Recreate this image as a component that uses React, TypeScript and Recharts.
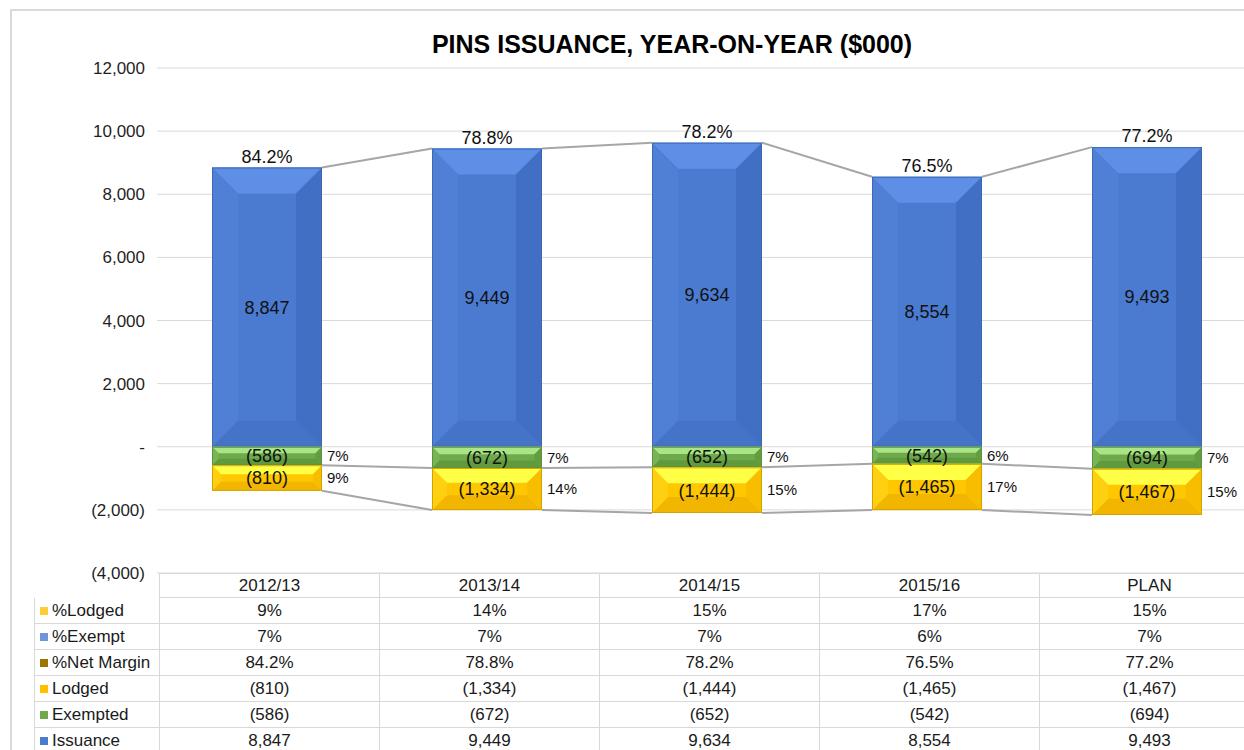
import { BarChart, Bar, XAxis, YAxis, CartesianGrid, LabelList } from "recharts";

const categories = ["2012/13", "2013/14", "2014/15", "2015/16", "PLAN"];
const issuance = [8847, 9449, 9634, 8554, 9493];
const exempted = [-586, -672, -652, -542, -694];
const lodged = [-810, -1334, -1444, -1465, -1467];
const pctLodged = [9, 14, 15, 17, 15];
const pctExempt = [7, 7, 7, 6, 7];
const pctNetMargin = [84.2, 78.8, 78.2, 76.5, 77.2];
const yTicks = [-4000, -2000, 0, 2000, 4000, 6000, 8000, 10000, 12000];

const FONT = "'Liberation Sans', Arial, sans-serif";
const CHART_W = 1300;
const CHART_H = 600;
const MARGIN = { top: 68, right: 43, bottom: 27, left: 97 };
const Y_AXIS_W = 60;
const PLOT_W = CHART_W - MARGIN.left - Y_AXIS_W - MARGIN.right;
const STEP = PLOT_W / categories.length;
const LINE = "#a6a6a6";

const data = categories.map((name, i) => ({
    name,
    issuance: issuance[i],
    exempted: exempted[i],
    lodged: lodged[i],
    pctLodged: pctLodged[i],
    pctExempt: pctExempt[i],
    pctNetMargin: pctNetMargin[i],
}));

const fmtNum = (v: number) =>
    v < 0 ? `(${Math.abs(v).toLocaleString("en-US")})` : v.toLocaleString("en-US");
const fmtAxis = (v: number) => (v === 0 ? "-" : fmtNum(v));

const palettes: Record<string, any> = {
    issuance: { center: "#4a7bd1", top: "#5d8fe6", left: "#4f80d6", right: "#416fc3", bottom: "#4473c7", edge: "#3f68b2" },
    exempted: { center: "#6eaa4b", top: "#a9e585", left: "#78b555", right: "#629e40", bottom: "#609a3e", edge: "#5f9040" },
    lodged: { center: "#ffc700", top: "#ffff45", left: "#ffcf12", right: "#f9bd00", bottom: "#f2b600", edge: "#d0a400" },
};

// normalise negative heights coming from the stacked bars
function box(props: any) {
    let { x, y, width, height } = props;
    if (height < 0) {
        y = y + height;
        height = -height;
    }
    return { x, y, w: width, h: height };
}

function Bevel({ x, y, w, h, p }: any) {
    const b = Math.min(26, h * 0.35, w / 2);
    const pts = (a: number[][]) => a.map((q) => q.join(",")).join(" ");
    return (
        <g>
            <rect x={x} y={y} width={w} height={h} fill={p.center} />
            <polygon points={pts([[x, y], [x + w, y], [x + w - b, y + b], [x + b, y + b]])} fill={p.top} />
            <polygon points={pts([[x, y + h], [x + w, y + h], [x + w - b, y + h - b], [x + b, y + h - b]])} fill={p.bottom} />
            <polygon points={pts([[x, y], [x + b, y + b], [x + b, y + h - b], [x, y + h]])} fill={p.left} />
            <polygon points={pts([[x + w, y], [x + w - b, y + b], [x + w - b, y + h - b], [x + w, y + h]])} fill={p.right} />
            <rect x={x + 0.5} y={y + 0.5} width={w - 1} height={Math.max(h - 1, 0)} fill="none" stroke={p.edge} strokeWidth={1} />
        </g>
    );
}

const IssuanceShape = (props: any) => {
    const { x, y, w, h } = box(props);
    const i = props.index;
    const k = h / issuance[i];
    const zeroY = y + h;
    return (
        <g>
            <Bevel x={x} y={y} w={w} h={h} p={palettes.issuance} />
            {i < categories.length - 1 && (
                <line x1={x + w} y1={y} x2={x + STEP} y2={zeroY - issuance[i + 1] * k} stroke={LINE} strokeWidth={2} />
            )}
        </g>
    );
};

const ExemptedShape = (props: any) => {
    const { x, y, w, h } = box(props);
    const i = props.index;
    const k = h / Math.abs(exempted[i]);
    return (
        <g>
            <Bevel x={x} y={y} w={w} h={h} p={palettes.exempted} />
            {i < categories.length - 1 && (
                <line x1={x + w} y1={y + h} x2={x + STEP} y2={y + Math.abs(exempted[i + 1]) * k} stroke={LINE} strokeWidth={2} />
            )}
        </g>
    );
};

const LodgedShape = (props: any) => {
    const { x, y, w, h } = box(props);
    const i = props.index;
    const k = h / Math.abs(lodged[i]);
    const zeroY = y - Math.abs(exempted[i]) * k;
    return (
        <g>
            <Bevel x={x} y={y} w={w} h={h} p={palettes.lodged} />
            {i < categories.length - 1 && (
                <line
                    x1={x + w}
                    y1={y + h}
                    x2={x + STEP}
                    y2={zeroY + (Math.abs(exempted[i + 1]) + Math.abs(lodged[i + 1])) * k}
                    stroke={LINE}
                    strokeWidth={2}
                />
            )}
        </g>
    );
};

const tableRows = [
    { label: "%Lodged", icon: "#ffcc33", values: pctLodged.map((v) => `${v}%`) },
    { label: "%Exempt", icon: "#6f95d8", values: pctExempt.map((v) => `${v}%`) },
    { label: "%Net Margin", icon: "#9c7400", values: pctNetMargin.map((v) => `${v.toFixed(1)}%`) },
    { label: "Lodged", icon: "#ffc000", values: lodged.map(fmtNum) },
    { label: "Exempted", icon: "#6fa94a", values: exempted.map(fmtNum) },
    { label: "Issuance", icon: "#4a7bd0", values: issuance.map(fmtNum) },
];

const GRID = "#d9d9d9";
const LABEL_W = 125;
const TABLE_LEFT = 34;

function DataTable() {
    const cell = (w: number, h: number, extra: any = {}) => ({
        width: w,
        height: h,
        boxSizing: "border-box" as const,
        borderLeft: `1px solid ${GRID}`,
        borderBottom: `1px solid ${GRID}`,
        display: "flex",
        alignItems: "center",
        justifyContent: "center",
        whiteSpace: "nowrap" as const,
        ...extra,
    });
    return (
        <div style={{ position: "absolute", left: TABLE_LEFT, top: 573, fontFamily: FONT, fontSize: 17, color: "#1a1a1a" }}>
            <div style={{ display: "flex" }}>
                <div style={{ width: LABEL_W, height: 25 }} />
                {categories.map((c) => (
                    <div key={c} style={cell(STEP, 25, { borderTop: `1px solid ${GRID}` })}>
                        {c}
                    </div>
                ))}
            </div>
            {tableRows.map((r) => (
                <div key={r.label} style={{ display: "flex" }}>
                    <div style={cell(LABEL_W, 26, { justifyContent: "flex-start", paddingLeft: 5 })}>
                        <span style={{ display: "inline-block", width: 8, height: 8, background: r.icon, marginRight: 4 }} />
                        {r.label}
                    </div>
                    {r.values.map((v, j) => (
                        <div key={j} style={cell(STEP, 26)}>
                            {v}
                        </div>
                    ))}
                </div>
            ))}
        </div>
    );
}

export default function App() {
    const labelStyle = { fontFamily: FONT, fill: "#111" };
    return (
        <div style={{ position: "fixed", left: 0, top: 0, width: 1244, height: 750, overflow: "hidden", background: "#fff" }}>
            <div style={{ position: "absolute", left: 10, top: 9, width: 1400, height: 900, borderLeft: `2px solid ${GRID}`, borderTop: `2px solid ${GRID}` }} />
            <div
                style={{
                    position: "absolute",
                    left: 172,
                    top: 29,
                    width: 1000,
                    textAlign: "center",
                    fontFamily: FONT,
                    fontWeight: "bold",
                    fontSize: 25,
                    lineHeight: "30px",
                    color: "#000",
                }}
            >
                PINS ISSUANCE, YEAR-ON-YEAR ($000)
            </div>
            <div style={{ position: "absolute", left: 0, top: 0 }}>
                <BarChart width={CHART_W} height={CHART_H} data={data} margin={MARGIN} stackOffset="sign" barSize={110}>
                    <CartesianGrid vertical={false} stroke={GRID} strokeWidth={1} />
                    <XAxis dataKey="name" hide />
                    <YAxis
                        width={Y_AXIS_W}
                        domain={[-4000, 12000]}
                        ticks={yTicks}
                        interval={0}
                        axisLine={false}
                        tickLine={false}
                        tickMargin={6}
                        tickFormatter={fmtAxis}
                        tick={{ fontSize: 17, fill: "#1f1f1f", fontFamily: FONT }}
                    />
                    <Bar dataKey="issuance" stackId="a" shape={IssuanceShape} isAnimationActive={false}>
                        <LabelList dataKey="issuance" position="center" formatter={(v: any) => fmtNum(v)} fontSize={18} {...labelStyle} />
                        <LabelList dataKey="pctNetMargin" position="top" offset={5} formatter={(v: any) => `${Number(v).toFixed(1)}%`} fontSize={18} {...labelStyle} />
                    </Bar>
                    <Bar dataKey="exempted" stackId="a" shape={ExemptedShape} isAnimationActive={false}>
                        <LabelList dataKey="exempted" position="center" formatter={(v: any) => fmtNum(v)} fontSize={18} {...labelStyle} />
                        <LabelList dataKey="pctExempt" position="right" offset={5} formatter={(v: any) => `${v}%`} fontSize={15} {...labelStyle} />
                    </Bar>
                    <Bar dataKey="lodged" stackId="a" shape={LodgedShape} isAnimationActive={false}>
                        <LabelList dataKey="lodged" position="center" formatter={(v: any) => fmtNum(v)} fontSize={18} {...labelStyle} />
                        <LabelList dataKey="pctLodged" position="right" offset={5} formatter={(v: any) => `${v}%`} fontSize={15} {...labelStyle} />
                    </Bar>
                </BarChart>
            </div>
            <DataTable />
        </div>
    );
}
